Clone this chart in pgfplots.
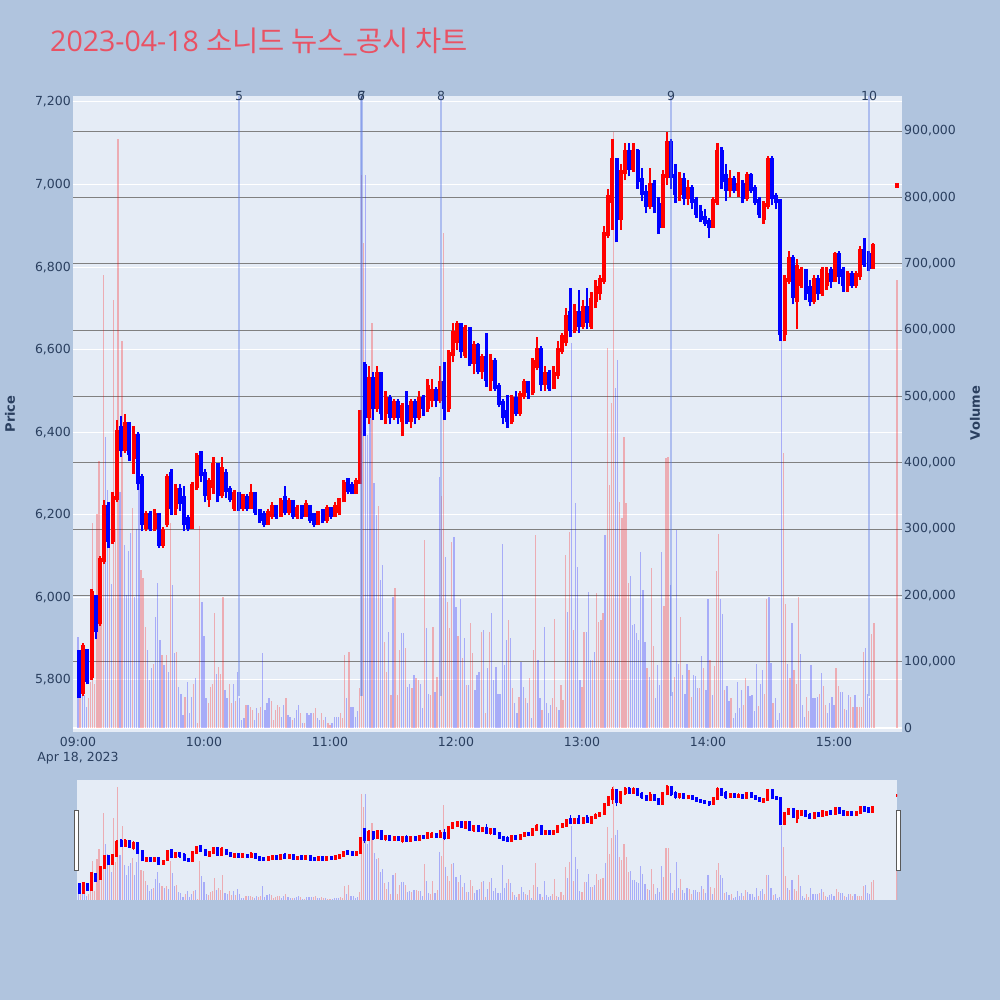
\documentclass[border=0pt]{standalone}
\usepackage{pgfplots}
\pgfplotsset{compat=1.18}
\usepackage{pgfplotstable}
\usepackage{fontspec}
\newfontfamily\dv{DejaVu Sans}
\newfontfamily\os{Open Sans}
\newfontfamily\kr{Noto Sans CJK KR}
\definecolor{outerbg}{RGB}{176,196,222}
\definecolor{plotbg}{RGB}{229,236,246}
\definecolor{tickc}{RGB}{42,63,95}
\definecolor{titlec}{RGB}{233,82,100}
\definecolor{gridg}{RGB}{128,128,128}
\definecolor{newsc}{RGB}{90,120,230}

% 2-minute candles, t = start minute after 09:00
\pgfplotstableread{
t o h l c
2 5770 5890 5760 5880
6 5810 6020 5800 6010
10 5940 6100 5930 6090
12 6090 6235 6080 6220
16 6140 6255 6130 6240
18 6240 6430 6230 6400
22 6360 6445 6350 6420
26 6340 6415 6300 6390
32 6170 6210 6160 6200
36 6170 6215 6160 6200
40 6130 6170 6120 6160
42 6180 6300 6170 6290
46 6220 6275 6200 6260
54 6170 6280 6165 6270
56 6270 6350 6260 6340
62 6240 6290 6220 6280
64 6270 6340 6250 6320
68 6250 6340 6240 6310
74 6220 6260 6210 6250
78 6220 6250 6210 6245
82 6220 6275 6215 6250
90 6180 6215 6175 6205
92 6200 6230 6190 6220
96 6200 6240 6195 6230
100 6210 6240 6200 6230
104 6200 6225 6190 6215
108 6200 6235 6195 6225
114 6180 6210 6175 6205
118 6190 6225 6180 6215
122 6200 6230 6195 6220
124 6210 6240 6200 6235
126 6235 6285 6230 6275
132 6255 6290 6250 6280
134 6280 6455 6275 6450
138 6440 6560 6420 6530
142 6460 6560 6450 6540
146 6450 6500 6420 6480
150 6440 6480 6430 6470
154 6430 6470 6390 6460
158 6430 6480 6410 6470
162 6440 6500 6430 6480
166 6460 6530 6450 6510
168 6480 6530 6460 6500
172 6480 6560 6470 6520
176 6460 6600 6450 6590
178 6590 6665 6570 6640
180 6620 6670 6600 6660
184 6590 6660 6580 6650
188 6570 6620 6540 6610
192 6550 6590 6530 6580
196 6530 6590 6500 6570
206 6430 6490 6420 6480
210 6450 6500 6440 6490
212 6490 6530 6480 6520
216 6500 6580 6490 6570
218 6560 6630 6550 6600
222 6520 6560 6500 6540
226 6510 6560 6505 6540
228 6540 6620 6530 6600
230 6600 6640 6590 6630
232 6620 6700 6610 6680
236 6650 6710 6640 6690
240 6660 6720 6650 6700
244 6660 6740 6650 6720
246 6720 6770 6700 6750
248 6740 6780 6720 6770
250 6770 6900 6760 6880
252 6880 6990 6870 6970
254 6960 7110 6890 7060
258 6920 7050 6890 7030
260 7030 7100 7010 7080
264 7040 7100 7030 7080
272 6950 7040 6940 7000
278 6900 7035 6895 7020
280 7020 7127 7000 7100
286 6980 7030 6960 7010
290 6970 7010 6950 6990
302 6900 6970 6895 6960
304 6960 7100 6950 7080
310 6990 7035 6970 7010
314 6990 7030 6970 7000
318 6970 7030 6960 7020
326 6920 6960 6905 6950
328 6950 7070 6940 7060
336 6640 6780 6620 6770
338 6770 6840 6760 6820
342 6720 6820 6650 6800
344 6760 6800 6750 6790
350 6720 6780 6710 6770
354 6740 6800 6730 6790
356 6760 6800 6745 6780
360 6770 6837 6765 6830
366 6760 6790 6740 6780
370 6760 6790 6750 6780
372 6780 6850 6770 6840
378 6800 6858 6795 6850
389.5 6997 7000 6997 7000
}\cup

\pgfplotstableread{
t o h l c
0 5867 5870 5760 5760
4 5870 5875 5790 5800
8 6000 6005 5900 5920
14 6220 6230 6120 6140
20 6410 6440 6340 6360
24 6420 6420 6330 6350
28 6390 6400 6260 6280
30 6290 6300 6160 6180
34 6200 6210 6160 6170
38 6200 6200 6120 6130
44 6300 6310 6200 6220
48 6260 6275 6210 6230
50 6240 6270 6160 6180
52 6190 6200 6160 6170
58 6350 6350 6280 6300
60 6300 6310 6230 6250
66 6320 6325 6230 6250
70 6300 6310 6240 6260
72 6260 6270 6230 6240
76 6250 6255 6210 6220
80 6240 6250 6210 6220
84 6250 6255 6200 6210
86 6210 6215 6180 6190
88 6200 6210 6170 6180
94 6220 6225 6190 6200
98 6240 6270 6200 6210
102 6230 6235 6190 6200
106 6220 6225 6190 6200
110 6220 6225 6180 6190
112 6200 6205 6170 6180
116 6210 6215 6180 6190
120 6215 6220 6190 6200
128 6285 6290 6250 6260
130 6270 6280 6250 6255
136 6560 6570 6390 6440
140 6530 6545 6430 6460
144 6540 6545 6430 6450
148 6480 6490 6420 6440
152 6470 6480 6420 6440
156 6460 6500 6420 6430
160 6470 6480 6420 6440
164 6480 6490 6440 6460
170 6500 6510 6460 6480
174 6520 6570 6430 6460
182 6660 6665 6580 6600
186 6650 6655 6560 6570
190 6610 6615 6540 6550
194 6580 6640 6510 6530
198 6570 6580 6500 6510
200 6510 6520 6460 6470
202 6470 6480 6420 6440
204 6450 6490 6410 6430
208 6480 6500 6440 6450
214 6520 6525 6480 6500
220 6600 6610 6500 6520
224 6540 6550 6500 6510
234 6690 6750 6630 6650
238 6690 6745 6640 6660
242 6700 6750 6650 6670
256 7060 7065 6860 6920
262 7080 7100 7020 7040
266 7080 7085 6990 7010
268 7010 7040 6960 6980
270 6980 7000 6930 6950
274 7000 7010 6930 6950
276 6950 6970 6880 6900
282 7100 7110 6990 7020
284 7020 7050 6955 6980
288 7010 7028 6950 6970
292 6990 7000 6940 6960
294 6960 6970 6920 6930
296 6930 6950 6910 6920
298 6920 6940 6900 6910
300 6910 6920 6870 6900
306 7080 7090 6990 7010
308 7020 7050 6960 6990
312 7010 7020 6980 6990
316 7000 7010 6955 6970
320 7020 7028 6980 6990
322 6990 7000 6950 6960
324 6960 6970 6920 6930
330 7060 7070 6950 6970
332 6970 6980 6940 6960
334 6960 6965 6620 6640
340 6820 6830 6710 6730
346 6790 6795 6720 6740
348 6750 6770 6705 6720
352 6770 6780 6720 6740
358 6790 6800 6750 6770
362 6830 6840 6760 6780
364 6790 6800 6740 6760
368 6780 6790 6750 6760
374 6840 6870 6800 6810
376 6830 6840 6790 6800
}\cdn

% 1-minute volumes
\pgfplotstableread{
t v
1 67000
5 45000
6 70000
7 309000
8 67000
9 323000
10 403000
11 240000
12 683000
15 300000
17 645000
18 300000
19 888000
21 583000
26 332000
30 238000
31 226000
32 152000
36 97000
40 110000
42 110000
44 309000
47 115000
51 47000
55 67000
57 7000
58 304000
62 37000
63 62000
64 67000
65 173000
67 92000
68 82000
69 198000
72 67000
73 37000
75 40000
80 35000
82 32000
83 27000
86 22000
87 32000
92 40000
93 12000
94 27000
95 35000
96 32000
99 45000
102 12000
106 22000
108 7000
112 22000
113 30000
116 22000
117 12000
119 7000
120 5000
125 22000
126 15000
127 110000
129 115000
134 60000
135 834000
136 731000
140 610000
143 334000
146 130000
147 85000
149 50000
151 211000
152 50000
153 118000
156 120000
159 60000
161 75000
162 72000
165 283000
168 50000
169 153000
171 77000
173 349000
174 746000
176 190000
177 150000
178 281000
181 138000
183 105000
185 65000
187 158000
188 113000
192 145000
194 22000
196 145000
205 163000
207 60000
210 47000
213 45000
215 75000
217 118000
218 291000
221 27000
226 45000
227 165000
228 32000
230 65000
231 42000
232 261000
234 296000
236 148000
240 62000
241 145000
245 102000
247 203000
248 160000
249 163000
250 173000
252 573000
253 366000
254 490000
255 899000
258 341000
259 316000
260 439000
261 339000
262 218000
271 90000
273 241000
274 123000
279 184000
280 407000
281 409000
284 77000
287 168000
291 87000
292 47000
296 61000
298 90000
301 102000
303 93000
304 236000
305 293000
308 57000
311 45000
317 35000
318 75000
324 33000
327 51000
328 195000
331 38000
336 414000
337 187000
339 76000
341 88000
342 67000
343 198000
347 47000
348 25000
353 52000
355 64000
356 35000
361 90000
362 63000
365 28000
368 47000
369 32000
371 32000
372 31000
373 31000
374 114000
378 142000
379 159000
390 676000
}\vup

\pgfplotstableread{
t v
0 137000
2 64000
3 49000
4 31000
13 439000
14 359000
16 217000
20 356000
22 276000
23 200000
24 267000
25 294000
27 197000
28 300000
29 444000
33 118000
34 72000
35 90000
37 168000
38 218000
39 133000
41 95000
43 85000
45 216000
46 113000
48 62000
49 52000
50 20000
52 70000
53 22000
54 47000
56 75000
59 190000
60 138000
61 45000
66 82000
70 57000
71 45000
74 67000
76 85000
77 45000
78 12000
79 15000
81 35000
84 12000
85 30000
88 113000
89 27000
90 37000
91 45000
97 17000
98 35000
100 20000
101 17000
103 15000
104 27000
105 35000
107 7000
109 22000
110 20000
111 22000
114 15000
115 12000
118 17000
121 7000
122 17000
123 17000
124 17000
128 45000
130 32000
131 32000
132 17000
133 25000
137 834000
138 442000
139 500000
141 369000
142 321000
144 223000
145 246000
148 145000
150 198000
154 143000
155 143000
157 62000
158 67000
160 80000
163 67000
164 30000
166 150000
167 52000
170 55000
172 379000
175 258000
179 288000
180 183000
182 195000
184 135000
186 65000
189 57000
190 80000
191 85000
193 148000
195 90000
197 173000
198 72000
199 92000
200 52000
201 52000
202 278000
203 95000
204 133000
206 135000
208 37000
209 22000
211 100000
212 62000
214 37000
216 15000
219 103000
220 45000
222 153000
223 37000
224 22000
225 35000
229 27000
233 175000
235 580000
237 339000
238 243000
239 72000
242 145000
243 205000
244 102000
246 115000
251 291000
256 513000
257 555000
263 229000
264 155000
265 157000
266 143000
267 133000
268 266000
269 208000
270 129000
272 77000
275 45000
276 95000
277 65000
278 266000
282 216000
283 55000
285 298000
286 97000
288 80000
289 52000
290 97000
293 80000
294 78000
295 60000
297 108000
299 58000
300 195000
302 50000
306 195000
307 172000
309 63000
310 40000
312 15000
313 22000
314 70000
315 30000
316 57000
319 63000
320 48000
321 50000
322 25000
323 97000
325 67000
326 87000
329 198000
330 98000
332 45000
333 12000
334 22000
335 585000
338 97000
340 158000
344 112000
345 35000
346 17000
349 95000
350 45000
351 45000
352 47000
354 83000
357 23000
358 37000
359 47000
360 35000
363 55000
364 55000
366 27000
367 50000
370 50000
375 120000
376 52000
377 45000
}\vdn

% news markers (minute after 09:00)
\pgfplotstableread{
t lo hi
76.7 5760 7214.5
134.8 5760 7214.5
135.2 5760 7214.5
172.9 5760 7214.5
282.4 5760 7214.5
376.7 5760 7214.5
}\news

\tikzset{
  tickfont/.style={font=\dv\fontsize{12.5}{15}\selectfont, text=tickc},
}
\pgfplotsset{
  bars/.style n args={3}{draw=none, mark=none, forget plot,
    error bars/.cd, y dir=plus, y explicit, error mark=none,
    error bar style={draw=#1, line width=#2, #3}},
}

\begin{document}
\begin{tikzpicture}
\fill[outerbg] (0pt,0pt) rectangle (1000pt,1000pt);
\node[anchor=base west, inner sep=0pt, text=titlec, font=\fontsize{28.5}{34}\selectfont] at (50pt,948pt)
  {{\os 2023-04-18 }{\kr 소니드 뉴스}{\os\_}{\kr 공시 차트}};

% ---------- main: background, price grid, price & time ticks
\begin{axis}[at={(73pt,268pt)}, anchor=south west, scale only axis,
  width=829pt, height=636pt,
  xmin=-2.38, xmax=392.4, ymin=5674, ymax=7214.5,
  axis background/.style={fill=plotbg},
  axis line style={draw=none}, major tick length=0pt, tick style={draw=none},
  ytick={5800,6000,6200,6400,6600,6800,7000,7200},
  ymajorgrids, major grid style={white, line width=1pt},
  xtick={0,60,120,180,240,300,360},
  xticklabels={{09:00\\Apr 18, 2023},{10:00},{11:00},{12:00},{13:00},{14:00},{15:00}},
  xticklabel style={tickfont, align=center, inner sep=0pt},
  xticklabel shift=5pt,
  yticklabel style={tickfont, inner sep=0pt},
  yticklabel shift=2pt,
  /pgf/number format/1000 sep={,},
  /pgf/number format/assume math mode=true,
]
\addplot[draw=none] coordinates {(0,6000)};
\end{axis}

% ---------- volume axis
\begin{axis}[at={(73pt,268pt)}, anchor=south west, scale only axis,
  width=829pt, height=636pt,
  xmin=-2.38, xmax=392.4, ymin=-6030, ymax=952800,
  axis line style={draw=none}, major tick length=0pt, tick style={draw=none},
  xtick=\empty,
  ytick={0,100000,200000,300000,400000,500000,600000,700000,800000,900000},
  yticklabel pos=right, scaled y ticks=false,
  ymajorgrids, major grid style={gridg, line width=0.9pt},
  yticklabel style={tickfont, inner sep=0pt},
  yticklabel shift=2pt,
  /pgf/number format/fixed,
  /pgf/number format/1000 sep={,},
  /pgf/number format/assume math mode=true,
]
\addplot[white, line width=1.6pt] coordinates {(-2.38,0) (392.4,0)};
\addplot[ycomb, draw=red, draw opacity=0.27, line width=1.3pt] table[x=t, y=v] {\vup};
\addplot[ycomb, draw=blue, draw opacity=0.27, line width=1.3pt] table[x=t, y=v] {\vdn};
\end{axis}

% ---------- candles and news lines
\begin{axis}[at={(73pt,268pt)}, anchor=south west, scale only axis,
  width=829pt, height=636pt,
  xmin=-2.38, xmax=392.4, ymin=5674, ymax=7214.5,
  hide axis, clip=false]
\addplot[bars={red}{2.4pt}{}]
  table[x expr=\thisrow{t}+0.5, y=l, y error plus expr=\thisrow{h}-\thisrow{l}] {\cup};
\addplot[bars={red}{4pt}{line cap=rect}]
  table[x expr=\thisrow{t}+0.5, y=o, y error plus expr=\thisrow{c}-\thisrow{o}] {\cup};
\addplot[bars={blue}{2.4pt}{}]
  table[x expr=\thisrow{t}+0.5, y=l, y error plus expr=\thisrow{h}-\thisrow{l}] {\cdn};
\addplot[bars={blue}{4pt}{line cap=rect}]
  table[x expr=\thisrow{t}+0.5, y=c, y error plus expr=\thisrow{o}-\thisrow{c}] {\cdn};
\addplot[bars={newsc}{1.2pt}{draw opacity=0.4}]
  table[x=t, y=lo, y error plus expr=\thisrow{hi}-\thisrow{lo}] {\news};
\node[tickfont] at (axis cs:76.7,7214.5) {5};
\node[tickfont] at (axis cs:134.8,7214.5) {6};
\node[tickfont] at (axis cs:135.2,7214.5) {7};
\node[tickfont] at (axis cs:172.9,7214.5) {8};
\node[tickfont] at (axis cs:282.4,7214.5) {9};
\node[tickfont] at (axis cs:376.7,7214.5) {10};
\end{axis}

\node[rotate=90, text=tickc, font=\dv\bfseries\fontsize{13}{16}\selectfont] at (10pt,586pt) {Price};
\node[rotate=90, text=tickc, font=\dv\bfseries\fontsize{13}{16}\selectfont] at (975pt,587pt) {Volume};

% ---------- range slider
\fill[plotbg] (77pt,100pt) rectangle (897pt,220pt);
\begin{axis}[at={(77pt,100pt)}, anchor=south west, scale only axis,
  width=820pt, height=120pt,
  xmin=-0.5, xmax=390, ymin=0, ymax=945000, hide axis]
\addplot[ycomb, draw=red, draw opacity=0.27, line width=1.1pt] table[x=t, y=v] {\vup};
\addplot[ycomb, draw=blue, draw opacity=0.27, line width=1.1pt] table[x=t, y=v] {\vdn};
\end{axis}
\begin{axis}[at={(77pt,100pt)}, anchor=south west, scale only axis,
  width=820pt, height=120pt,
  xmin=-0.5, xmax=390, ymin=5671, ymax=7195, hide axis]
\addplot[bars={red}{1.6pt}{}]
  table[x expr=\thisrow{t}+0.5, y=l, y error plus expr=\thisrow{h}-\thisrow{l}] {\cup};
\addplot[bars={red}{3pt}{line cap=rect}]
  table[x expr=\thisrow{t}+0.5, y=o, y error plus expr=\thisrow{c}-\thisrow{o}] {\cup};
\addplot[bars={blue}{1.6pt}{}]
  table[x expr=\thisrow{t}+0.5, y=l, y error plus expr=\thisrow{h}-\thisrow{l}] {\cdn};
\addplot[bars={blue}{3pt}{line cap=rect}]
  table[x expr=\thisrow{t}+0.5, y=c, y error plus expr=\thisrow{o}-\thisrow{c}] {\cdn};
\end{axis}
\draw[fill=white, draw=black!65, line width=0.8pt] (74.5pt,130pt) rectangle (78.5pt,190pt);
\draw[fill=white, draw=black!65, line width=0.8pt] (896.5pt,130pt) rectangle (900.5pt,190pt);
\end{tikzpicture}
\end{document}
